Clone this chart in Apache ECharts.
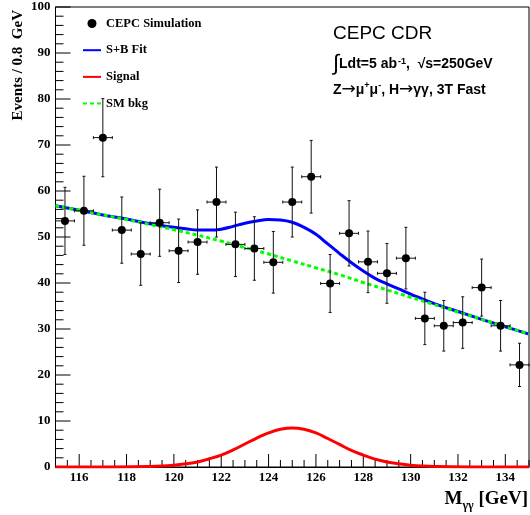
<!DOCTYPE html>
<html><head><meta charset="utf-8">
<script src="https://cdn.jsdelivr.net/npm/echarts@6/dist/echarts.min.js"></script>
<style>html,body{margin:0;padding:0;background:#fff}#c{width:530px;height:515px}</style>
</head><body><div id="c"></div>
<script>
// ---- data ----
const binCenters = [115.4,116.2,117.0,117.8,118.6,119.4,120.2,121.0,121.8,122.6,123.4,124.2,125.0,125.8,126.6,127.4,128.2,129.0,129.8,130.6,131.4,132.2,133.0,133.8,134.6];
const counts     = [53.5,55.7,71.6,51.5,46.3,53.1,47.0,48.9,57.6,48.4,47.5,44.5,57.6,63.1,39.9,50.8,44.6,42.1,45.4,32.3,30.7,31.4,39.0,30.7,22.2];
const errors     = [7.3,7.5,8.5,7.2,6.8,7.3,6.9,7.0,7.6,7.0,6.9,6.7,7.6,7.9,6.3,7.1,6.7,6.5,6.7,5.7,5.5,5.6,6.2,5.5,4.7];
const binHalfWidth = 0.4;

const bkgX = [115,116,117,118,119,120,121,122,123,124,125,126,127,128,129,130,131,132,133,134,135];
const bkgY = [56.8,55.8,54.8,53.8,52.7,51.6,50.4,49.1,47.7,46.3,44.8,43.3,41.8,40.1,38.5,36.9,35.3,33.7,32.1,30.5,28.9];

const sbX = [115,116,117,118,119,120,120.5,121,121.5,122,122.5,123,123.5,124,124.5,125,125.5,126,126.5,127,127.5,128,128.5,129,129.5,130,131,132,133,134,135];
const sbY = [56.8,55.8,54.8,53.9,52.9,52.1,51.8,51.5,51.5,51.7,52.3,53.0,53.5,53.8,53.7,53.2,52.1,50.6,48.5,46.4,44.4,42.6,41.0,39.8,38.7,37.6,35.5,33.8,32.1,30.5,28.9];

const sigX = [115,117,119,119.5,120,120.5,121,121.5,122,122.5,123,123.5,124,124.5,125,125.5,126,126.5,127,127.5,128,128.5,129,129.5,130,130.5,131,133,135];
const sigY = [0,0,0.1,0.2,0.4,0.7,1.1,1.8,2.6,3.7,5.0,6.3,7.4,8.2,8.5,8.2,7.4,6.2,4.9,3.6,2.6,1.7,1.1,0.7,0.4,0.2,0.1,0,0];

const xRange = [115, 135];
const yRange = [0, 100];
const xMajorTicks = [116,118,120,122,124,126,128,130,132,134];
const yMajorTicks = [0,10,20,30,40,50,60,70,80,90,100];
const xMinorStep = 0.5;
const yMinorStep = 2;
const legendNames = ['CEPC Simulation','S+B Fit','Signal','SM bkg'];
// --------------------------------------

const serif = "'Liberation Serif','Times New Roman',serif";
const sans = "'Liberation Sans',Arial,sans-serif";
const zip = (xs, ys) => xs.map((x, i) => [x, ys[i]]);

const W = 530, G = {left: 55.5, right: 1, top: 7, bottom: 48};
const pxPerUnit = (W - G.left - G.right) / (xRange[1] - xRange[0]);
// second grid spanning exactly the labelled range so its labels fall on 116..134
const G2 = {
  left: G.left + (xMajorTicks[0] - xRange[0]) * pxPerUnit,
  right: G.right + (xRange[1] - xMajorTicks[xMajorTicks.length - 1]) * pxPerUnit,
  top: G.top, bottom: G.bottom
};

// tick marks (ROOT style, inside the frame): [x, y, dx px, dy px]
const TICK = {yMajor: 15, yMinor: 8, xMajor: 13, xMinor: 7};
const tickData = [];
for (let k = 0; yRange[0] + k * yMinorStep <= yRange[1] + 1e-9; k++) {
  const v = yRange[0] + k * yMinorStep;
  const major = yMajorTicks.indexOf(v) >= 0;
  tickData.push([xRange[0], v, major ? TICK.yMajor : TICK.yMinor, 0]);
}
for (let k = 0; xRange[0] + k * xMinorStep <= xRange[1] + 1e-9; k++) {
  const v = xRange[0] + k * xMinorStep;
  const major = xMajorTicks.indexOf(v) >= 0;
  tickData.push([v, yRange[0], 0, -(major ? TICK.xMajor : TICK.xMinor)]);
}

const chart = echarts.init(document.getElementById('c'));

const option = {
  animation: false,
  backgroundColor: '#fff',
  grid: [
    {left: G.left, right: G.right, top: G.top, bottom: G.bottom, show: true, borderColor: '#000', borderWidth: 1},
    {left: G2.left, right: G2.right, top: G2.top, bottom: G2.bottom, show: false}
  ],
  legend: {
    orient: 'vertical', left: 82, top: 17, padding: 0, itemWidth: 18, itemHeight: 9, itemGap: 13.7,
    textStyle: {fontFamily: serif, fontWeight: 'bold', fontSize: 12.5, color: '#000'},
    data: [
      {name: legendNames[0], icon: 'circle', itemStyle: {color: '#000'}},
      {name: legendNames[1], itemStyle: {opacity: 0}},
      {name: legendNames[2], itemStyle: {opacity: 0}},
      {name: legendNames[3], itemStyle: {opacity: 0}}
    ]
  },
  xAxis: [
    {
      gridIndex: 0, type: 'value', min: xRange[0], max: xRange[1], interval: xMinorStep, position: 'bottom',
      axisLine: {show: true, lineStyle: {color: '#000', width: 1}},
      axisTick: {show: false},
      axisLabel: {show: false},
      splitLine: {show: false}
    },
    {
      gridIndex: 1, type: 'value', min: xMajorTicks[0], max: xMajorTicks[xMajorTicks.length - 1], interval: 2, position: 'bottom',
      axisLine: {show: false},
      axisTick: {show: false},
      axisLabel: {show: true, margin: 4, color: '#000', fontFamily: serif, fontWeight: 'bold', fontSize: 13},
      splitLine: {show: false}
    }
  ],
  yAxis: [
    {
      gridIndex: 0, type: 'value', min: yRange[0], max: yRange[1], interval: 10,
      axisLine: {show: true, lineStyle: {color: '#000', width: 1}},
      axisTick: {show: false},
      axisLabel: {margin: 5, color: '#000', fontFamily: serif, fontWeight: 'bold', fontSize: 13},
      splitLine: {show: false}
    },
    {gridIndex: 1, type: 'value', min: yRange[0], max: yRange[1], show: false}
  ],
  series: [
    {
      name: 'ticks', type: 'custom', z: 1, silent: true, clip: false,
      xAxisIndex: 0, yAxisIndex: 0,
      data: tickData, encode: {x: 0, y: 1},
      renderItem: function (params, api) {
        const p = api.coord([api.value(0), api.value(1)]);
        return {
          type: 'line',
          shape: {x1: p[0], y1: p[1], x2: p[0] + api.value(2), y2: p[1] + api.value(3)},
          style: {stroke: '#000', lineWidth: 1}
        };
      }
    },
    {
      name: legendNames[1], type: 'line', data: zip(sbX, sbY), smooth: 0.4,
      symbol: 'none', z: 2,
      lineStyle: {color: '#0000ff', width: 3}, itemStyle: {color: '#0000ff'}
    },
    {
      name: legendNames[2], type: 'line', data: zip(sigX, sigY), smooth: 0.4,
      symbol: 'none', z: 2,
      lineStyle: {color: '#ff0000', width: 3}, itemStyle: {color: '#ff0000'}
    },
    {
      name: legendNames[3], type: 'line', data: zip(bkgX, bkgY), smooth: 0.4,
      symbol: 'none', z: 3,
      lineStyle: {color: '#00ff00', width: 3, type: [4, 3]}, itemStyle: {color: '#00ff00'}
    },
    {
      name: legendNames[0], type: 'custom', z: 4,
      data: binCenters.map((x, i) => [x, counts[i], errors[i], binHalfWidth]),
      encode: {x: 0, y: 1},
      itemStyle: {color: '#000'},
      renderItem: function (params, api) {
        const x = api.value(0), y = api.value(1), e = api.value(2), hw = api.value(3);
        const c = api.coord([x, y]);
        const t = api.coord([x, y + e]);
        const b = api.coord([x, y - e]);
        const l = api.coord([x - hw, y]);
        const r = api.coord([x + hw, y]);
        const st = {stroke: '#111', lineWidth: 1};
        const cap = 1.5;
        return {
          type: 'group',
          children: [
            {type: 'line', shape: {x1: c[0], y1: t[1], x2: c[0], y2: b[1]}, style: st},
            {type: 'line', shape: {x1: l[0], y1: c[1], x2: r[0], y2: c[1]}, style: st},
            {type: 'line', shape: {x1: c[0] - cap, y1: t[1], x2: c[0] + cap, y2: t[1]}, style: st},
            {type: 'line', shape: {x1: c[0] - cap, y1: b[1], x2: c[0] + cap, y2: b[1]}, style: st},
            {type: 'line', shape: {x1: l[0], y1: c[1] - cap, x2: l[0], y2: c[1] + cap}, style: st},
            {type: 'line', shape: {x1: r[0], y1: c[1] - cap, x2: r[0], y2: c[1] + cap}, style: st},
            {type: 'circle', shape: {cx: c[0], cy: c[1], r: 4}, style: {fill: '#000'}}
          ]
        };
      }
    }
  ],
  graphic: [
    {
      type: 'text', left: 333, top: 24,
      style: {text: 'CEPC CDR', font: "19px " + sans, fill: '#000'}
    },
    {
      type: 'text', left: 333, top: 53,
      style: {
        text: '{i|∫}{b|Ldt=5 ab}{s|-1}{b|,  √s=250GeV}',
        fill: '#000',
        rich: {
          i: {fontFamily: sans, fontSize: 22, fontWeight: 'normal', fill: '#000', verticalAlign: 'middle'},
          b: {fontFamily: sans, fontSize: 14, fontWeight: 'bold', fill: '#000', verticalAlign: 'middle'},
          s: {fontFamily: sans, fontSize: 9, fontWeight: 'bold', fill: '#000', verticalAlign: 'top', padding: [4, 0, 0, 1]}
        }
      }
    },
    {
      type: 'text', left: 333, top: 81,
      style: {
        text: '{b|Z}{a|→}{b|μ}{s|+}{b|μ}{s|-}{b|, H}{a|→}{b|γγ, 3T Fast}',
        fill: '#000',
        rich: {
          b: {fontFamily: sans, fontSize: 14, fontWeight: 'bold', fill: '#000', verticalAlign: 'middle', lineHeight: 18},
          a: {fontFamily: "'DejaVu Sans',sans-serif", fontSize: 17, fontWeight: 'normal', fill: '#000', verticalAlign: 'middle', lineHeight: 18},
          s: {fontFamily: sans, fontSize: 9, fontWeight: 'bold', fill: '#000', verticalAlign: 'top', lineHeight: 18}
        }
      }
    },
    {
      type: 'text', right: 2, top: 490,
      style: {
        text: '{m|M}{s|γγ}{m| [GeV]}',
        fill: '#000',
        rich: {
          m: {fontFamily: serif, fontSize: 19, fontWeight: 'bold', fill: '#000', verticalAlign: 'middle', lineHeight: 24},
          s: {fontFamily: serif, fontSize: 12, fontWeight: 'bold', fill: '#000', verticalAlign: 'bottom', lineHeight: 24}
        }
      }
    },
    {
      type: 'text', x: 18, y: 10, rotation: Math.PI / 2,
      style: {
        text: 'Events / 0.8  GeV', font: "bold 15px " + serif, fill: '#000',
        align: 'right', verticalAlign: 'middle'
      }
    }
  ]
};
chart.setOption(option);
</script>
</body></html>
